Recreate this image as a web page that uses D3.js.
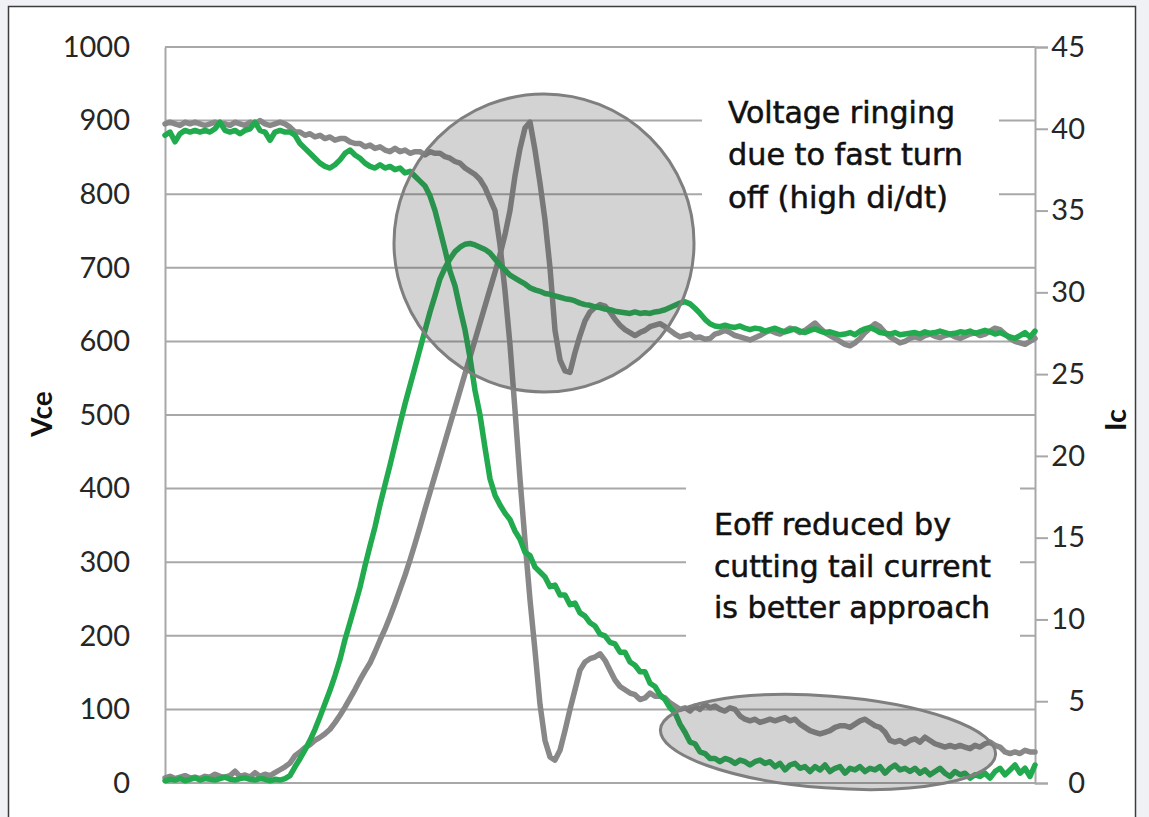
<!DOCTYPE html>
<html>
<head>
<meta charset="utf-8">
<script src="https://cdn.jsdelivr.net/npm/d3@7"></script>
<style>
  html, body { margin: 0; padding: 0; background: #eff1f4; }
  svg { display: block; }
</style>
</head>
<body>
<svg id="chart" width="1149" height="817"></svg>
<script>
// IGBT turn-off waveforms, one scope sample per entry (equal time steps).
// Collector-emitter voltage, volts (left axis)
const vceGray = [
  7,9,6,8,10,7,8,6,9,8,12,9,8,10,16,9,11,8,14,9,12,10,
  14,18,22,27,37,42,48,52,58,62,67,73,82,92,
  103,115,127,140,152,163,178,194,209,226,244,263,282,303,
  325,348,372,395,418,441,464,487,510,533,
  556,579,602,625,648,671,694,718,745,778,825,862,890,898,
  860,815,765,700,615,575,560,558,585,608,628,640,646,650,
  648,640,630,622,616,612,608,612,615,620,622,624,620,615,610,606,608,610,605,606,603,604,
  610,612,615,612,608,606,604,602,605,608,
  612,615,612,610,614,618,616,612,615,620,
  625,618,612,608,604,600,596,594,598,604,
  612,618,624,620,612,606,602,598,600,604,
  606,604,608,610,607,605,608,610,606,604,
  607,610,612,608,610,614,618,616,610,604,
  600,598,596,600,604
];
const vceGreen = [
  3,5,4,6,3,5,7,4,6,5,4,6,8,5,4,6,7,5,4,6,5,3,5,4,6,
  10,22,33,45,58,73,90,108,126,146,168,195,218,242,
  266,295,322,348,378,405,432,460,488,515,540,565,590,615,
  640,662,685,700,712,722,728,732,733,731,728,725,720,712,
  704,697,690,686,682,678,673,670,668,665,664,662,660,658,
  657,655,652,650,649,647,646,644,643,641,640,639,638,640,
  638,639,638,640,641,643,646,649,652,654,651,645,638,630,624,
  621,620,622,620,619,621,618,616,618,617,
  614,616,618,615,613,615,617,614,612,615,
  617,614,612,613,611,609,610,612,609,614,
  617,619,616,612,611,610,612,609,610,611,
  612,610,613,611,612,614,612,610,611,613,
  612,614,611,613,615,613,610,612,609,606,
  604,608,612,606,614
];
// Collector current, amperes (right axis)
const icGray = [
  40.3,40.4,40.3,40.2,40.4,40.3,40.4,40.3,40.2,40.3,40.4,40.3,40.3,40.2,40.4,40.3,40.2,40.4,40.3,40.5,40.3,40.2,40.3,40.4,40.3,
  40.1,39.8,39.8,39.6,39.7,39.5,39.6,39.4,39.5,39.3,39.4,39.4,39.2,39.1,39.1,38.9,39.0,38.8,38.9,38.7,38.6,38.8,
  38.6,38.7,38.5,38.6,38.6,38.4,38.6,38.5,38.5,38.3,38.2,38.0,37.9,37.6,37.4,37.2,36.9,36.4,35.7,35.0,
  32.9,30.1,26.8,22.8,18.6,14.8,11.2,8.1,4.8,2.6,1.6,1.4,2.0,3.2,4.5,5.7,6.9,7.4,7.6,7.7,7.9,
  7.5,6.9,6.3,5.9,5.7,5.5,5.4,5.1,5.2,5.5,5.3,5.3,5.2,4.9,4.7,4.5,4.6,4.4,4.7,4.5,4.8,4.6,
  4.7,4.5,4.4,4.6,4.5,4.1,3.9,3.8,3.9,3.7,
  3.8,3.9,3.8,3.9,4.0,3.8,3.9,3.6,3.4,3.2,
  3.1,3.0,3.1,3.2,3.4,3.5,3.5,3.4,3.6,3.8,
  3.9,3.7,3.5,3.4,3.1,2.6,2.5,2.6,2.4,2.6,
  2.7,2.5,2.8,2.6,2.4,2.3,2.2,2.3,2.2,2.3,
  2.2,2.1,2.3,2.2,2.4,2.5,2.3,2.2,1.9,1.8,
  1.9,1.8,2.0,1.9,1.9
];
const icGreen = [
  39.6,39.8,39.2,39.7,39.9,39.8,39.9,39.8,39.9,39.8,40.0,40.4,39.9,39.8,39.9,39.7,39.9,40.0,40.4,39.9,39.8,39.3,39.8,39.9,39.8,39.8,
  39.6,39.1,38.8,38.5,38.2,37.9,37.7,37.6,37.8,38.1,38.5,38.7,38.4,38.2,37.9,37.7,37.6,37.8,37.6,37.7,37.5,37.6,37.3,37.4,37.1,36.8,36.5,
  35.9,35.0,33.8,32.6,31.3,30.4,29.0,27.7,26.0,24.0,22.5,20.5,18.6,17.6,
  17.0,16.5,16.1,15.4,14.9,14.1,13.9,13.2,12.9,12.6,12.0,12.1,11.5,11.5,
  10.9,11.0,10.4,10.2,9.8,9.6,9.1,9.0,8.6,8.5,8.0,8.0,7.4,7.2,6.8,6.8,6.1,5.9,5.4,5.1,4.6,4.3,3.6,3.1,2.5,2.4,1.9,1.8,1.5,
  1.5,1.3,1.5,1.4,1.2,1.4,1.3,1.1,1.3,1.4,
  1.2,1.3,1.0,1.2,0.8,1.1,1.2,0.9,1.0,0.7,
  1.0,0.8,1.1,0.7,0.9,1.0,0.6,0.9,0.8,1.0,
  0.7,0.9,0.8,1.0,0.6,0.9,1.1,0.8,0.9,0.7,
  0.9,0.6,0.8,0.5,0.7,0.9,0.6,0.4,0.7,0.5,
  0.6,0.3,0.5,0.4,0.6,0.3,0.7,0.9,0.5,0.8,
  1.1,0.6,0.9,0.4,1.1
];

const vceTicks = [0, 100, 200, 300, 400, 500, 600, 700, 800, 900, 1000];
const icTicks = [0, 5, 10, 15, 20, 25, 30, 35, 40, 45];

const ringingNote = ["Voltage ringing", "due to fast turn", "off (high di/dt)"];
const tailNote = ["Eoff reduced by", "cutting tail current", "is better approach"];

const COLOR_GRAY = "#888888";
const COLOR_GREEN = "#21aa4e";
const GRID = "#a8a8a8";

const svg = d3.select("#chart");

// white panel with dark frame
svg.append("rect")
  .attr("x", 8.5).attr("y", 6.5)
  .attr("width", 1127).attr("height", 840)
  .attr("fill", "#ffffff")
  .attr("stroke", "#3c3c3c")
  .attr("stroke-width", 1.5);

const plot = { left: 165, right: 1035, top: 47, bottom: 783 };

const x = d3.scaleLinear().domain([0, vceGray.length - 1]).range([plot.left, plot.right]);
const yV = d3.scaleLinear().domain([0, 1000]).range([plot.bottom, plot.top]);
const yI = d3.scaleLinear().domain([0, 45]).range([plot.bottom, plot.top]);

// horizontal gridlines
svg.append("g").selectAll("line")
  .data(vceTicks)
  .join("line")
  .attr("x1", plot.left).attr("x2", plot.right)
  .attr("y1", d => yV(d)).attr("y2", d => yV(d))
  .attr("stroke", GRID)
  .attr("stroke-width", 2);

const tickFont = "Lato, 'Open Sans', sans-serif";

// left axis (Vce)
const axisL = svg.append("g")
  .attr("transform", `translate(${plot.left},0)`)
  .call(d3.axisLeft(yV).tickValues(vceTicks).tickFormat(d3.format("d")).tickSize(0).tickPadding(35));
axisL.select(".domain").attr("stroke", GRID).attr("stroke-width", 2);
axisL.selectAll("text")
  .attr("font-family", tickFont)
  .attr("font-size", 29)
  .attr("fill", "#262626");

// right axis (Ic)
const axisR = svg.append("g")
  .attr("transform", `translate(${plot.right},0)`)
  .call(d3.axisRight(yI).tickValues(icTicks).tickFormat(d3.format("d")).tickSize(13).tickPadding(3));
axisR.select(".domain").attr("stroke", GRID).attr("stroke-width", 2);
axisR.selectAll(".tick line").attr("stroke", GRID).attr("stroke-width", 2);
axisR.selectAll("text")
  .attr("text-anchor", "end")
  .attr("x", 50)
  .attr("font-family", tickFont)
  .attr("font-size", 29)
  .attr("fill", "#262626");

// axis titles
svg.append("text")
  .attr("transform", "translate(52,414) rotate(-90)")
  .attr("text-anchor", "middle")
  .attr("font-family", "Lato, sans-serif")
  .attr("font-weight", "bold")
  .attr("font-size", 28)
  .attr("fill", "#111")
  .text("Vce");
svg.append("text")
  .attr("transform", "translate(1126,420) rotate(-90)")
  .attr("text-anchor", "middle")
  .attr("font-family", "Lato, sans-serif")
  .attr("font-weight", "bold")
  .attr("font-size", 29)
  .attr("fill", "#111")
  .text("Ic");

// white boxes behind the notes
svg.append("rect").attr("x", 702).attr("y", 88).attr("width", 297).attr("height", 142).attr("fill", "#fff");
svg.append("rect").attr("x", 686).attr("y", 468).attr("width", 334).attr("height", 178).attr("fill", "#fff");

// waveforms
const lineV = d3.line().x((d, i) => x(i)).y(d => yV(d));
const lineI = d3.line().x((d, i) => x(i)).y(d => yI(d));

const traces = [
  { data: vceGray, gen: lineV, color: COLOR_GRAY },
  { data: icGray, gen: lineI, color: COLOR_GRAY },
  { data: vceGreen, gen: lineV, color: COLOR_GREEN },
  { data: icGreen, gen: lineI, color: COLOR_GREEN }
];
svg.append("g").selectAll("path")
  .data(traces)
  .join("path")
  .attr("d", d => d.gen(d.data))
  .attr("fill", "none")
  .attr("stroke", d => d.color)
  .attr("stroke-width", 5.5)
  .attr("stroke-linejoin", "round")
  .attr("stroke-linecap", "round");

// highlight shapes
svg.append("ellipse")
  .attr("cx", 544).attr("cy", 243).attr("rx", 150).attr("ry", 149)
  .attr("fill", "rgb(70,70,70)").attr("fill-opacity", 0.24)
  .attr("stroke", "#7f7f7f").attr("stroke-width", 3);
svg.append("ellipse")
  .attr("transform", "translate(828,742) rotate(4.3)")
  .attr("rx", 168).attr("ry", 46)
  .attr("fill", "rgb(70,70,70)").attr("fill-opacity", 0.24)
  .attr("stroke", "#7f7f7f").attr("stroke-width", 3);

// notes
function note(lines, x0, baselines, widths) {
  const t = svg.append("text")
    .attr("font-family", "'DejaVu Sans Condensed', 'DejaVu Sans', sans-serif")
    .attr("font-size", 30)
    .attr("fill", "#111")
    .attr("stroke", "#111")
    .attr("stroke-width", 0.5);
  lines.forEach((s, i) => {
    t.append("tspan")
      .attr("x", x0).attr("y", baselines[i])
      .attr("textLength", widths[i])
      .attr("lengthAdjust", "spacingAndGlyphs")
      .text(s);
  });
}
note(ringingNote, 728, [123, 165, 208], [227, 235, 220]);
note(tailNote, 714, [535, 577, 618], [237, 277, 276]);
</script>
</body>
</html>
